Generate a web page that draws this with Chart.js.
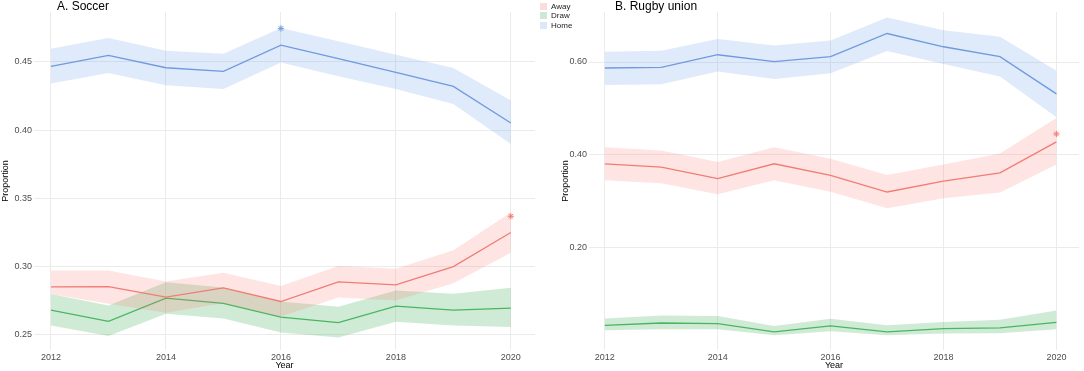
<!DOCTYPE html>
<html>
<head>
<meta charset="utf-8">
<script src="https://cdn.jsdelivr.net/npm/chart.js@4"></script>
<style>
	body { margin: 0; background: #ffffff; font-family: 'Liberation Sans', Arial, sans-serif; }
	#wrap { position: relative; width: 1084px; height: 371px; overflow: hidden; }
	.panel { position: absolute; top: 0; }
	.ptitle { position: absolute; top: 0; font-size: 12px; line-height: 12px; color: #000; white-space: nowrap; }
	.leg { position: absolute; left: 540px; font-size: 8px; line-height: 9px; color: #222; white-space: nowrap; }
	.leg span { display: inline-block; width: 7px; height: 7px; margin: 1px 4px 0 0; vertical-align: top; }
</style>
</head>
<body>
<div id="wrap">
	<div class="panel" style="left:0px;"><canvas id="soccer-viz" width="540" height="371"></canvas></div>
	<div class="panel" style="left:540px;"><canvas id="rugby-viz" width="544" height="371"></canvas></div>
	<div class="ptitle" style="left:57px;">A. Soccer</div>
	<div class="ptitle" style="left:615px;">B. Rugby union</div>
	<div id="legend"></div>
</div>
<script>
// Data (proportion of results, with ribbons)
var years = [ 2012, 2013, 2014, 2015, 2016, 2017, 2018, 2019, 2020 ];
var xTicks = [ 2012, 2014, 2016, 2018, 2020 ];

// A. Soccer
var soccer_home    = [ 0.4466, 0.4546, 0.4456, 0.4429, 0.4622, 0.4522, 0.4422, 0.4319, 0.4051 ];
var soccer_home_lo = [ 0.4340, 0.4417, 0.4327, 0.4300, 0.4495, 0.4393, 0.4300, 0.4190, 0.3898 ];
var soccer_home_hi = [ 0.4595, 0.4673, 0.4580, 0.4559, 0.4747, 0.4649, 0.4551, 0.4454, 0.4217 ];
var soccer_away    = [ 0.2852, 0.2854, 0.2777, 0.2845, 0.2745, 0.2888, 0.2867, 0.3000, 0.3250 ];
var soccer_away_lo = [ 0.2799, 0.2728, 0.2663, 0.2733, 0.2636, 0.2774, 0.2752, 0.2879, 0.3102 ];
var soccer_away_hi = [ 0.2971, 0.2971, 0.2891, 0.2956, 0.2859, 0.3005, 0.2985, 0.3121, 0.3396 ];
var soccer_draw    = [ 0.2682, 0.2600, 0.2770, 0.2731, 0.2631, 0.2590, 0.2711, 0.2682, 0.2697 ];
var soccer_draw_lo = [ 0.2570, 0.2493, 0.2655, 0.2621, 0.2519, 0.2481, 0.2597, 0.2570, 0.2558 ];
var soccer_draw_hi = [ 0.2799, 0.2716, 0.2886, 0.2847, 0.2745, 0.2706, 0.2825, 0.2801, 0.2845 ];
var soccer_yTicks  = [ 0.25, 0.30, 0.35, 0.40, 0.45 ];
// significance markers (*)
var soccer_star_home = [ { x: 2016, y: 0.4744 } ];
var soccer_star_away = [ { x: 2020, y: 0.3369 } ];

// B. Rugby union
var rugby_home    = [ 0.5871, 0.5886, 0.6157, 0.6007, 0.6114, 0.6615, 0.6329, 0.6114, 0.5313 ];
var rugby_home_lo = [ 0.5506, 0.5521, 0.5793, 0.5635, 0.5757, 0.6236, 0.5957, 0.5685, 0.4806 ];
var rugby_home_hi = [ 0.6222, 0.6243, 0.6494, 0.6358, 0.6465, 0.6959, 0.6687, 0.6544, 0.5814 ];
var rugby_away    = [ 0.3804, 0.3732, 0.3482, 0.3804, 0.3554, 0.3195, 0.3431, 0.3610, 0.4276 ];
var rugby_away_lo = [ 0.3446, 0.3382, 0.3146, 0.3446, 0.3203, 0.2846, 0.3060, 0.3182, 0.3790 ];
var rugby_away_hi = [ 0.4162, 0.4090, 0.3840, 0.4162, 0.3911, 0.3561, 0.3790, 0.4026, 0.4791 ];
var rugby_draw    = [ 0.0318, 0.0369, 0.0355, 0.0176, 0.0305, 0.0176, 0.0247, 0.0262, 0.0382 ];
var rugby_draw_lo = [ 0.0210, 0.0232, 0.0232, 0.0103, 0.0189, 0.0103, 0.0140, 0.0147, 0.0232 ];
var rugby_draw_hi = [ 0.0468, 0.0532, 0.0518, 0.0305, 0.0461, 0.0318, 0.0390, 0.0440, 0.0640 ];
var rugby_yTicks  = [ 0.20, 0.40, 0.60 ];
var rugby_star_away = [ { x: 2020, y: 0.4448 } ];

var series_names = [ 'Away', 'Draw', 'Home' ];
var line_colors  = { Away: '#ee7e77', Draw: '#4dba66', Home: '#7099d8' };
var band_colors  = { Away: 'rgba(248,118,109,0.2)', Draw: 'rgba(60,170,80,0.24)', Home: 'rgba(110,160,235,0.22)' };
var key_colors   = { Away: '#fcdcda', Draw: '#cfe8d4', Home: '#dce8f9' };

Chart.defaults.font.family = "'Liberation Sans', Arial, sans-serif";
Chart.defaults.animation = false;

function pts(yValues) {
	return years.map(function(yr, i) { return { x: yr, y: yValues[i] }; });
}

function band_datasets(name, lo, hi, mid) {
	// ribbon = upper edge filled down to the lower edge, then the line itself
	return [
		{ label: name + ' hi', data: pts(hi), borderWidth: 0, pointRadius: 0, fill: '+1', backgroundColor: band_colors[name] },
		{ label: name + ' lo', data: pts(lo), borderWidth: 0, pointRadius: 0, fill: false },
		{ label: name, data: pts(mid), borderColor: line_colors[name], borderWidth: 1.3, pointRadius: 0, fill: false }
	];
}

function star_dataset(name, data) {
	return { label: name + ' *', data: data, showLine: false, pointStyle: 'star', pointRadius: 3.2,
	         borderColor: line_colors[name], borderWidth: 1, backgroundColor: line_colors[name] };
}

function generate_panel(canvas_id, datasets, xMin, xMax, yMin, yMax, yTicks, yWidth, yTitlePad, padRight) {
	var ctx = document.getElementById(canvas_id);
	var cfg = {
		type: 'line',
		data: { datasets: datasets },
		options: {
			responsive: false,
			layout: { padding: { top: 12, right: padRight, bottom: 0, left: 0 } },
			plugins: { legend: { display: false }, tooltip: { enabled: false } },
			scales: {
				x: {
					type: 'linear', min: xMin, max: xMax,
					afterBuildTicks: function(s) { s.ticks = xTicks.map(function(v) { return { value: v }; }); },
					afterFit: function(s) { s.height = 21; },
					grid: { color: '#ebebeb', lineWidth: 1, drawTicks: false },
					border: { display: false },
					ticks: { color: '#4d4d4d', font: { size: 9 }, padding: 2, maxRotation: 0, autoSkip: false,
					         callback: function(v) { return '' + v; } },
					title: { display: true, text: 'Year', color: '#000', font: { size: 9 }, padding: { top: 0, bottom: 0 } }
				},
				y: {
					min: yMin, max: yMax,
					afterBuildTicks: function(s) { s.ticks = yTicks.map(function(v) { return { value: v }; }); },
					afterFit: function(s) { s.width = yWidth; },
					grid: { color: '#ebebeb', lineWidth: 1, drawTicks: false },
					border: { display: false },
					ticks: { color: '#4d4d4d', font: { size: 9 }, padding: 2,
					         callback: function(v) { return v.toFixed(2); } },
					title: { display: true, text: 'Proportion', color: '#000', font: { size: 9 }, padding: { top: yTitlePad, bottom: 0 } }
				}
			}
		}
	};
	new Chart(ctx, cfg);
} // generate_panel

function build_legend() {
	var el = document.getElementById('legend');
	series_names.forEach(function(name, i) {
		var row = document.createElement('div');
		row.className = 'leg';
		row.style.top = (2 + i * 9.3) + 'px';
		row.innerHTML = '<span style="background:' + key_colors[name] + '"></span>' + name;
		el.appendChild(row);
	});
} // build_legend

// A. Soccer
var soccer_sets = [].concat(
	band_datasets('Away', soccer_away_lo, soccer_away_hi, soccer_away),
	band_datasets('Draw', soccer_draw_lo, soccer_draw_hi, soccer_draw),
	band_datasets('Home', soccer_home_lo, soccer_home_hi, soccer_home),
	[ star_dataset('Home', soccer_star_home), star_dataset('Away', soccer_star_away) ]
);
generate_panel('soccer-viz', soccer_sets, 2011.705, 2020.42, 0.239, 0.4864, soccer_yTicks, 34, 0, 3.3);

// B. Rugby union
var rugby_sets = [].concat(
	band_datasets('Away', rugby_away_lo, rugby_away_hi, rugby_away),
	band_datasets('Draw', rugby_draw_lo, rugby_draw_hi, rugby_draw),
	band_datasets('Home', rugby_home_lo, rugby_home_hi, rugby_home),
	[ star_dataset('Away', rugby_star_away) ]
);
generate_panel('rugby-viz', rugby_sets, 2011.72, 2020.40, -0.0214, 0.7079, rugby_yTicks, 49, 20, 0);

build_legend();
</script>
</body>
</html>
